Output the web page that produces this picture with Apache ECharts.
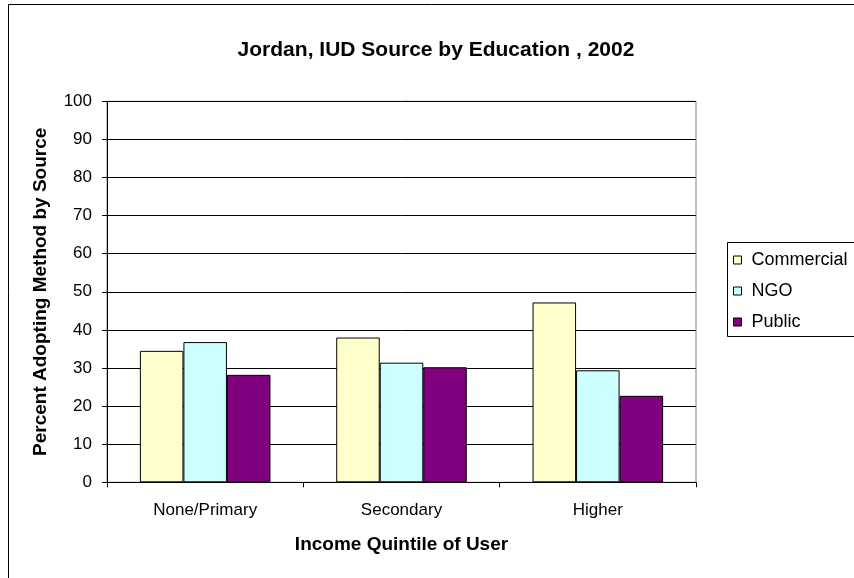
<!DOCTYPE html>
<html>
<head>
<meta charset="utf-8">
<script src="https://cdn.jsdelivr.net/npm/echarts@6/dist/echarts.min.js"></script>
<style>html,body{margin:0;padding:0;background:#fff}#c{width:854px;height:578px}</style>
</head>
<body>
<div id="c"></div>
<script>
var categories = ["None/Primary", "Secondary", "Higher"];
var commercial = [34.5, 38.0, 47.2];
var ngo = [36.8, 31.4, 29.4];
var publicSrc = [28.2, 30.2, 22.7];
var yTicks = [0, 10, 20, 30, 40, 50, 60, 70, 80, 90, 100];

var FONT = '"Liberation Sans", Arial, sans-serif';
var chart = echarts.init(document.getElementById('c'));
function bar(name, data, color) {
  return {
    name: name, type: 'bar', data: data,
    barGap: '0%', barCategoryGap: '33.5%',
    itemStyle: { color: color, borderColor: '#000', borderWidth: 1 }
  };
}
chart.setOption({
  animation: false,
  textStyle: { fontFamily: FONT },
  title: {
    text: 'Jordan, IUD Source by Education , 2002',
    left: 431, top: 35, textAlign: 'center',
    textStyle: { fontFamily: FONT, fontSize: 21, fontWeight: 'bold', color: '#000' }
  },
  graphic: [{
    type: 'rect', shape: { x: 8.5, y: 4.5, width: 1000, height: 1000 },
    style: { fill: 'none', stroke: '#000', lineWidth: 1 }, silent: true, z: -1
  }, {
    type: 'rect', shape: { x: 727.5, y: 242.5, width: 400, height: 94 },
    style: { fill: '#fff', stroke: '#000', lineWidth: 1 }, silent: true, z: -1
  }],
  legend: {
    orient: 'vertical', left: 727, top: 242,
    padding: [8, 0, 5, 6],
    itemWidth: 8, itemHeight: 8, itemGap: 11,
    borderWidth: 0,
    icon: 'rect',
    itemStyle: { borderColor: '#000', borderWidth: 1 },
    textStyle: { fontFamily: FONT, fontSize: 18, color: '#000', lineHeight: 20, padding: [0, 0, 0, 5] },
    data: ['Commercial', 'NGO', 'Public']
  },
  grid: {
    left: 107, right: 158, top: 101.3, bottom: 95.7,
    show: true, borderColor: '#808080', borderWidth: 1, backgroundColor: 'transparent'
  },
  xAxis: {
    type: 'category', data: categories,
    name: 'Income Quintile of User', nameLocation: 'middle', nameGap: 53,
    nameTextStyle: { fontFamily: FONT, fontSize: 19, fontWeight: 'bold', color: '#000' },
    axisLine: { lineStyle: { color: '#000', width: 1 } },
    axisTick: { show: true, length: 5, lineStyle: { color: '#000' } },
    axisLabel: { fontFamily: FONT, fontSize: 17, color: '#000', margin: 20 }
  },
  yAxis: {
    type: 'value', min: yTicks[0], max: yTicks[yTicks.length - 1], interval: yTicks[1] - yTicks[0],
    name: 'Percent Adopting Method by Source', nameLocation: 'middle', nameGap: 57, nameRotate: 90,
    nameTextStyle: { fontFamily: FONT, fontSize: 19, fontWeight: 'bold', color: '#000' },
    axisLine: { show: true, lineStyle: { color: '#000', width: 1 } },
    axisTick: { show: true, length: 5, lineStyle: { color: '#000' } },
    axisLabel: { fontFamily: FONT, fontSize: 17, color: '#000', margin: 15 },
    splitLine: { show: true, lineStyle: { color: '#000', width: 1 } }
  },
  series: [
    bar('Commercial', commercial, '#FFFFCC'),
    bar('NGO', ngo, '#CCFFFF'),
    bar('Public', publicSrc, '#800080')
  ]
});
</script>
</body>
</html>
